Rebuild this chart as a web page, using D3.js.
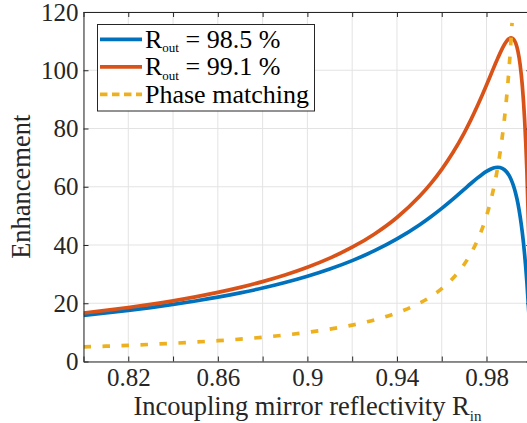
<!DOCTYPE html>
<html>
<head>
<meta charset="utf-8">
<script src="https://cdn.jsdelivr.net/npm/d3@7"></script>
<style>
  html, body { margin: 0; padding: 0; background: #fff; }
  svg text { font-family: "Liberation Serif", "Times New Roman", serif; }
</style>
</head>
<body>
<svg id="chart" width="527" height="423"></svg>
<script>
// ---- data ----
const reflectivity = [0.80,0.81,0.82,0.83,0.84,0.85,0.86,0.87,0.88,0.89,0.90,0.91,0.92,0.93,0.94,0.95,
  0.955,0.96,0.965,0.97,0.973,0.976,0.978,0.98,0.982,0.984,0.985,0.986,0.988,0.989,0.99,0.991,0.992,
  0.993,0.994,0.995,0.996,0.997,0.998,0.999,1.0];
const rout985 = [15.86,16.66,17.55,18.52,19.59,20.77,22.08,23.56,25.22,27.11,29.26,31.75,34.64,38.04,42.08,46.88,
  49.62,52.59,55.77,59.11,61.12,63.05,64.24,65.28,66.11,66.60,66.67,66.59,65.84,65.07,63.97,62.45,60.43,
  57.77,54.39,49.87,44.18,36.89,27.55,15.53,0];
const rout991 = [16.65,17.55,18.54,19.63,20.84,22.20,23.72,25.45,27.43,29.70,32.35,35.48,39.23,43.79,49.44,56.62,
  60.97,65.97,71.75,78.44,82.95,87.86,91.32,94.93,98.62,102.30,104.08,105.80,108.82,109.99,110.80,111.11,110.73,
  109.37,106.63,101.98,94.59,83.19,65.97,39.87,0];
const phaseR = [0.80,0.81,0.82,0.83,0.84,0.85,0.86,0.87,0.88,0.89,0.90,0.91,0.92,0.93,0.94,0.95,
  0.955,0.96,0.965,0.97,0.973,0.976,0.978,0.98,0.982,0.984,0.985,0.986,0.988,0.989,0.99,0.991,0.9914];
const phaseMatching = [5.00,5.26,5.56,5.88,6.25,6.67,7.14,7.69,8.33,9.09,10.00,11.11,12.50,14.29,16.67,20.00,
  22.22,25.00,28.57,33.33,37.04,41.67,45.45,50.00,55.56,62.50,66.67,71.43,83.33,90.91,100.00,111.11,116.3];

const seriesNames = ["98.5 %", "99.1 %", "Phase matching"];
const xTicks = [0.80,0.82,0.84,0.86,0.88,0.90,0.92,0.94,0.96,0.98,1.00];
const xTickLabels = ["0.82","0.86","0.9","0.94","0.98"];
const yTicks = [0,20,40,60,80,100,120];

// ---- layout ----
const FONT = '"Liberation Serif", "Times New Roman", serif';
const svg = d3.select("#chart");
const L = 83.5, R = 531.3, T = 12, B = 361.5;
const x = d3.scaleLinear().domain([0.8, 1.0]).range([L, R]);
const y = d3.scaleLinear().domain([0, 120]).range([B, T]);
const ink = "#262626";
const colors = ["#0072BD", "#D95319", "#EDB120"];

svg.append("defs").append("clipPath").attr("id", "clip")
  .append("rect").attr("x", L).attr("y", T).attr("width", R - L).attr("height", B - T);

// grid
const grid = svg.append("g").attr("stroke", "#e3e3e3").attr("stroke-width", 1);
grid.selectAll("line.gx").data(xTicks).join("line")
  .attr("x1", d => x(d)).attr("x2", d => x(d)).attr("y1", T).attr("y2", B);
grid.selectAll("line.gy").data(yTicks).join("line")
  .attr("x1", L).attr("x2", R).attr("y1", d => y(d)).attr("y2", d => y(d));

// curves
const plot = svg.append("g").attr("clip-path", "url(#clip)");
const line = d3.line().curve(d3.curveMonotoneX);
const blueData = reflectivity.map((r, i) => [x(r), y(rout985[i])]);
const orangeData = reflectivity.map((r, i) => [x(r), y(rout991[i])]);
const phaseData = phaseR.map((r, i) => [x(r), y(phaseMatching[i])]);
plot.append("path").attr("d", line(blueData)).attr("fill", "none")
  .attr("stroke", colors[0]).attr("stroke-width", 3.7);
plot.append("path").attr("d", line(orangeData)).attr("fill", "none")
  .attr("stroke", colors[1]).attr("stroke-width", 3.7);
plot.append("path").attr("d", line(phaseData)).attr("fill", "none")
  .attr("stroke", colors[2]).attr("stroke-width", 3.7).attr("stroke-dasharray", "7.5,11.5");

// axes
const fmtX = d => { const s = String(+d.toFixed(2)); return xTickLabels.includes(s) ? s : ""; };
const axB = svg.append("g").attr("transform", `translate(0,${B})`)
  .call(d3.axisBottom(x).tickValues(xTicks).tickFormat(fmtX).tickSizeInner(-5).tickSizeOuter(0).tickPadding(7));
const axT = svg.append("g").attr("transform", `translate(0,${T})`)
  .call(d3.axisTop(x).tickValues(xTicks).tickFormat("").tickSizeInner(-5).tickSizeOuter(0));
const axL = svg.append("g").attr("transform", `translate(${L},0)`)
  .call(d3.axisLeft(y).tickValues(yTicks).tickFormat(d => String(d)).tickSizeInner(-5).tickSizeOuter(0).tickPadding(5));
const axR = svg.append("g").attr("transform", `translate(${R},0)`)
  .call(d3.axisRight(y).tickValues(yTicks).tickFormat("").tickSizeInner(-5).tickSizeOuter(0));
[axB, axT, axL, axR].forEach(a => {
  a.attr("font-family", null);
  a.select(".domain").attr("stroke", ink).attr("stroke-width", 1);
  a.selectAll(".tick line").attr("stroke", ink).attr("stroke-width", 1);
  a.selectAll(".tick text").attr("fill", ink).style("font-size", "25px").style("font-family", FONT);
});

// axis labels
const xl = svg.append("text").attr("x", (L + R) / 2).attr("y", 415).attr("text-anchor", "middle")
  .style("font-size", "26.5px").style("font-family", FONT).attr("fill", ink);
xl.append("tspan").text("Incoupling mirror reflectivity R");
xl.append("tspan").style("font-size", "15px").attr("dy", 6).text("in");

svg.append("text").attr("transform", `translate(30,${(T + B) / 2}) rotate(-90)`)
  .attr("text-anchor", "middle").style("font-size", "26.5px").style("font-family", FONT)
  .attr("fill", ink).text("Enhancement");

// legend
const lg = svg.append("g");
lg.append("rect").attr("x", 97.5).attr("y", 24.5).attr("width", 217).attr("height", 86.5)
  .attr("fill", "#fff").attr("stroke", ink).attr("stroke-width", 1);
const rowY = [39.3, 66.8, 94.3];
seriesNames.forEach((name, i) => {
  const ly = rowY[i];
  lg.append("line").attr("x1", 100).attr("x2", 142).attr("y1", ly).attr("y2", ly)
    .attr("stroke", colors[i]).attr("stroke-width", 3.7)
    .attr("stroke-dasharray", i === 2 ? "7.5,4.5" : null);
  const t = lg.append("text").attr("x", 145).attr("y", ly + 8.5)
    .style("font-size", "26px").style("font-family", FONT).attr("fill", "#000");
  if (i < 2) {
    t.append("tspan").text("R");
    t.append("tspan").style("font-size", "13px").attr("dy", 4.5).text("out");
    t.append("tspan").attr("dy", -4.5).text(" = " + name);
  } else {
    t.text(name);
  }
});
</script>
</body>
</html>
